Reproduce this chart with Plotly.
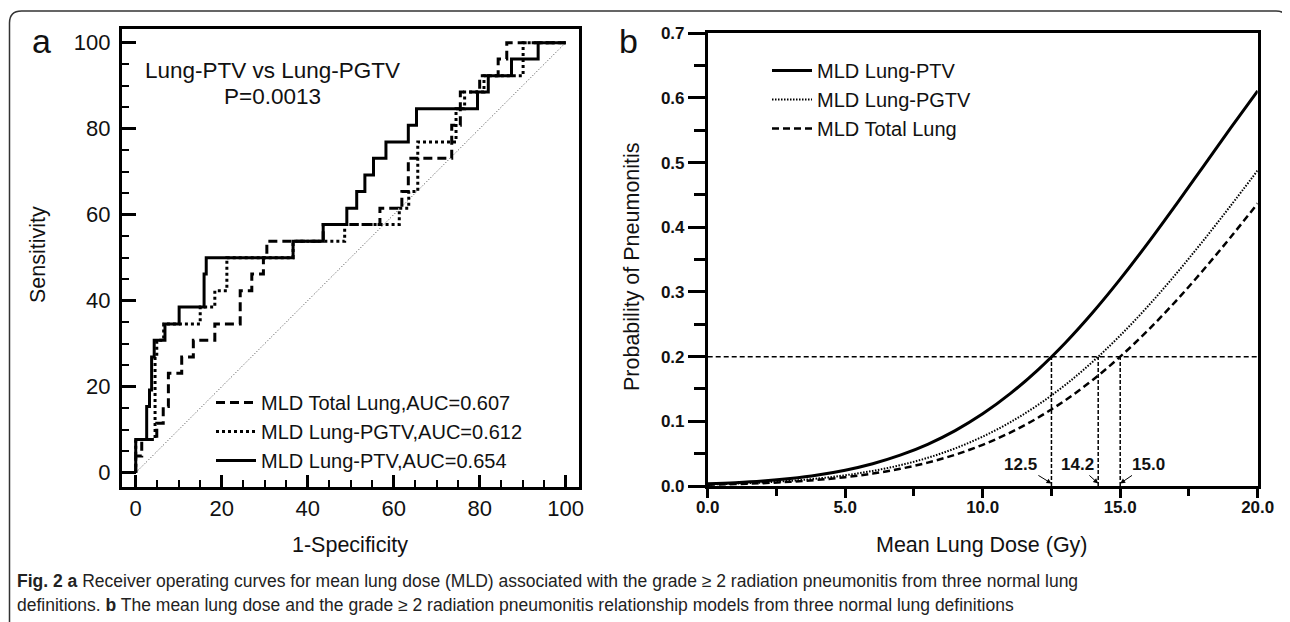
import plotly.graph_objects as go

# ---------------- Panel a: ROC curves (1-specificity %, sensitivity %) ----------------
fpr_total = [0, 0, 1.4, 4.9, 6.4, 7.6, 10.7, 13.4, 18.4, 24.3, 27.0, 29.7, 30.5, 43.6, 56.8, 61.9, 63.4, 73.5, 75.5, 80.0, 84.3, 86.3, 100]
tpr_total = [0, 3.85, 7.69, 11.5, 15.4, 23.1, 26.9, 30.8, 34.6, 42.3, 46.2, 50.0, 53.8, 57.7, 61.5, 65.4, 73.1, 80.8, 88.5, 92.3, 96.2, 100, 100]

fpr_pgtv = [0, 0, 4.5, 4.9, 6.5, 15.0, 18.4, 21.2, 36.6, 48.6, 61.3, 63.5, 65.6, 74.5, 76.5, 81.0, 90.1, 100]
tpr_pgtv = [0, 7.69, 26.9, 30.8, 34.6, 38.5, 42.3, 50.0, 53.8, 57.7, 61.5, 65.4, 76.9, 84.6, 88.5, 92.3, 100, 100]

fpr_ptv = [0, 0, 2.55, 3.2, 3.7, 4.3, 6.8, 10.1, 15.9, 16.4, 36.6, 43.6, 49.1, 51.4, 53.3, 55.3, 58.2, 63.4, 65.3, 79.5, 82.0, 87.4, 93.6, 100]
tpr_ptv = [0, 7.69, 15.4, 19.2, 26.9, 30.8, 34.6, 38.5, 46.2, 50.0, 53.8, 57.7, 61.5, 65.4, 69.2, 73.1, 76.9, 80.8, 84.6, 88.5, 92.3, 96.2, 100, 100]

diag = [0, 100]
roc_names = ["MLD Total Lung,AUC=0.607", "MLD Lung-PGTV,AUC=0.612", "MLD Lung-PTV,AUC=0.654"]
roc_title = "Lung-PTV vs Lung-PGTV"
roc_p = "P=0.0013"

# ---------------- Panel b: dose-response models ----------------
dose = [0, 1, 2, 3, 4, 5, 6, 7, 8, 9, 10, 11, 12, 13, 14, 15, 16, 17, 18, 19, 20]
p_ptv = [0.0033, 0.0051, 0.0078, 0.0117, 0.0171, 0.0245, 0.0345, 0.0477, 0.0645, 0.0857, 0.1116,
         0.1428, 0.1793, 0.2212, 0.2683, 0.3199, 0.3752, 0.4333, 0.4928, 0.5525, 0.6110]
p_pgtv = [0.0023, 0.0036, 0.0054, 0.0080, 0.0116, 0.0166, 0.0233, 0.0322, 0.0436, 0.0582, 0.0764,
          0.0985, 0.1251, 0.1562, 0.1922, 0.2327, 0.2776, 0.3264, 0.3783, 0.4325, 0.4880]
p_total = [0.0019, 0.0029, 0.0044, 0.0066, 0.0095, 0.0137, 0.0192, 0.0266, 0.0361, 0.0484, 0.0637,
           0.0826, 0.1054, 0.1325, 0.1640, 0.2000, 0.2404, 0.2848, 0.3329, 0.3839, 0.4370]
model_names = ["MLD Lung-PTV", "MLD Lung-PGTV", "MLD Total Lung"]
p_level = 0.2
thresholds = [12.5, 14.2, 15.0]
threshold_labels = ["12.5", "14.2", "15.0"]
dose_range = [0, 20]

caption1 = ("<b>Fig. 2 a</b> Receiver operating curves for mean lung dose (MLD) associated with the grade "
            "\u2265 2 radiation pneumonitis from three normal lung")
caption2 = ("definitions. <b>b</b> The mean lung dose and the grade \u2265 2 radiation pneumonitis "
            "relationship models from three normal lung definitions")

FONT = "Liberation Sans, Arial, sans-serif"
W, H = 1290, 622
OFF = 8  # page body margin

def px(x):
    return (x - OFF) / W

def py(y):
    return 1 - (y - OFF) / H

fig = go.Figure()

# Panel a traces
fig.add_trace(go.Scatter(x=diag, y=diag, mode="lines", xaxis="x", yaxis="y", showlegend=False,
                         line=dict(color="#444", width=1, dash="1px,2px"), hoverinfo="skip"))
fig.add_trace(go.Scatter(x=fpr_total, y=tpr_total, mode="lines", name=roc_names[0], legend="legend",
                         line=dict(color="black", width=3, dash="9px,5px", shape="hv"), xaxis="x", yaxis="y"))
fig.add_trace(go.Scatter(x=fpr_pgtv, y=tpr_pgtv, mode="lines", name=roc_names[1], legend="legend",
                         line=dict(color="black", width=3, dash="3px,3px", shape="hv"), xaxis="x", yaxis="y"))
fig.add_trace(go.Scatter(x=fpr_ptv, y=tpr_ptv, mode="lines", name=roc_names[2], legend="legend",
                         line=dict(color="black", width=3, shape="hv"), xaxis="x", yaxis="y"))

# Panel b reference lines
fig.add_trace(go.Scatter(x=dose_range, y=[p_level, p_level], mode="lines", xaxis="x2", yaxis="y2",
                         showlegend=False, line=dict(color="black", width=1.5, dash="5px,3px"), hoverinfo="skip"))
for t in thresholds:
    fig.add_trace(go.Scatter(x=[t, t], y=[0, p_level], mode="lines", xaxis="x2", yaxis="y2",
                             showlegend=False, line=dict(color="black", width=1.5, dash="4px,2px"), hoverinfo="skip"))

# Panel b curves
fig.add_trace(go.Scatter(x=dose, y=p_ptv, mode="lines", name=model_names[0], legend="legend2",
                         line=dict(color="black", width=3, shape="spline"), xaxis="x2", yaxis="y2"))
fig.add_trace(go.Scatter(x=dose, y=p_pgtv, mode="lines", name=model_names[1], legend="legend2",
                         line=dict(color="black", width=2, dash="1.5px,1.5px", shape="spline"), xaxis="x2", yaxis="y2"))
fig.add_trace(go.Scatter(x=dose, y=p_total, mode="lines", name=model_names[2], legend="legend2",
                         line=dict(color="black", width=2.5, dash="7px,4px", shape="spline"), xaxis="x2", yaxis="y2"))

axis_common = dict(showgrid=False, zeroline=False, showline=True, linecolor="black", mirror=True, automargin=False)

fig.update_layout(
    width=W, height=H,
    margin=dict(l=0, r=0, t=0, b=0, pad=0, autoexpand=False),
    paper_bgcolor="white", plot_bgcolor="white",
    font=dict(family=FONT, color="black"),
    xaxis=dict(domain=[px(121.7), px(579)], range=[-3.26, 103.1], anchor="y",
               tick0=0, dtick=20, ticks="inside", ticklen=12, tickwidth=2.5, tickcolor="black",
               minor=dict(dtick=5, tick0=0, ticks="inside", ticklen=7, tickwidth=2, tickcolor="black"),
               linewidth=2.5, tickfont=dict(size=22, family=FONT, color="#111"), ticklabelstandoff=0,
               **axis_common),
    yaxis=dict(domain=[py(486.7), py(29.3)], range=[-3.26, 103.1], anchor="x",
               tick0=0, dtick=20, ticks="inside", ticklen=15, tickwidth=2.5, tickcolor="black",
               minor=dict(dtick=5, tick0=0, ticks="inside", ticklen=8, tickwidth=2, tickcolor="black"),
               linewidth=2.5, tickfont=dict(size=22, family=FONT, color="#111"), ticklabelstandoff=4,
               **axis_common),
    xaxis2=dict(domain=[px(707.7), px(1257.7)], range=dose_range, anchor="y2",
                tick0=0, dtick=5, tickformat=".1f", ticks="outside", ticklen=9, tickwidth=2.5, tickcolor="black",
                minor=dict(dtick=2.5, tick0=0, ticks="outside", ticklen=7, tickwidth=2.5, tickcolor="black"),
                linewidth=2.5, tickfont=dict(size=17, family=FONT, color="#111", weight="bold"),
                ticklabelstandoff=-5, **axis_common),
    yaxis2=dict(domain=[py(486), py(33.3)], range=[0, 0.7], anchor="x2",
                tick0=0, dtick=0.1, tickformat=".1f", ticks="outside", ticklen=17, tickwidth=2.5, tickcolor="black",
                minor=dict(dtick=0.05, tick0=0, ticks="outside", ticklen=11, tickwidth=2.5, tickcolor="black"),
                linewidth=2.5, tickfont=dict(size=17, family=FONT, color="#111", weight="bold"),
                **axis_common),
    legend=dict(x=px(211), y=py(383), xanchor="left", yanchor="top", bgcolor="rgba(0,0,0,0)",
                font=dict(size=20, family=FONT, color="#111"), itemwidth=40, tracegroupgap=0),
    legend2=dict(x=px(767), y=py(51), xanchor="left", yanchor="top", bgcolor="rgba(0,0,0,0)",
                 font=dict(size=20, family=FONT, color="#111"), itemwidth=40, tracegroupgap=0),
    showlegend=True,
)

ann = []
def text(x, y, s, size=21, angle=0, xanchor="center", bold=False, color="#111"):
    ann.append(dict(x=px(x), y=py(y), xref="paper", yref="paper", text=s, showarrow=False,
                    xanchor=xanchor, yanchor="middle", textangle=angle,
                    font=dict(size=size, family=FONT, color=color, weight="bold" if bold else "normal")))

text(41, 41, "a", size=34)
text(628, 41, "b", size=34)
text(272, 70, roc_title, size=22.5)
text(272, 96, roc_p, size=22.5)
text(38, 255, "Sensitivity", size=21.5, angle=-90)
text(350, 545, "1-Specificity", size=21.5)
text(632, 267, "Probability of Pneumonitis", size=21.5, angle=-90)
text(982, 545, "Mean Lung Dose (Gy)", size=21.5)
text(15, 581, caption1, size=17.5, xanchor="left", color="#222")
text(15, 605, caption2, size=17.5, xanchor="left", color="#222")

offsets = [(-31, -19), (-21, -19), (28, -19)]
for t, lab, (axo, ayo) in zip(thresholds, threshold_labels, offsets):
    ann.append(dict(x=t, y=0.004, xref="x2", yref="y2", text=lab, showarrow=True,
                    ax=axo, ay=ayo, arrowhead=2, arrowsize=1, arrowwidth=1, arrowcolor="black", standoff=0,
                    font=dict(size=17, family=FONT, color="#111", weight="bold")))
fig.update_layout(annotations=ann)

# outer rounded frame
rx, ry = 12 / W, 12 / H
L, R, T = px(9.5), px(1288), py(11)
fig.add_shape(type="path", xref="paper", yref="paper",
              path=f"M {L},-0.1 L {L},{T - ry} Q {L},{T} {L + rx},{T} L {R - rx},{T} Q {R},{T} {R},{T - ry} L {R},-0.1",
              line=dict(color="#333", width=1.5))

fig.write_html("out.html")
